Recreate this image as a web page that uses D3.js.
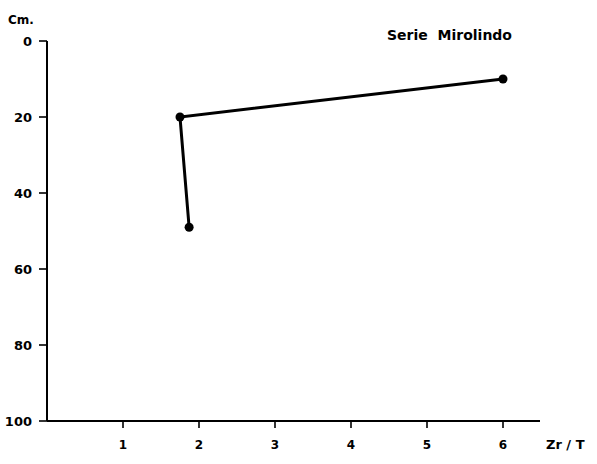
<!DOCTYPE html>
<html>
<head>
<meta charset="utf-8">
<script src="https://cdn.jsdelivr.net/npm/d3@7"></script>
<style>
  body { margin: 0; background: #fff; }
  text { font-family: "DejaVu Sans", sans-serif; font-weight: bold; fill: #000; white-space: pre; }
</style>
</head>
<body>
<svg id="chart" width="597" height="464"></svg>
<script>
// Depth profile, Serie Mirolindo
const ratio = [6.0, 1.75, 1.87];   // Zr / T
const depth = [10, 20, 49];        // cm
const xTicks = [1, 2, 3, 4, 5, 6];
const yTicks = [0, 20, 40, 60, 80, 100];

const svg = d3.select("#chart");
const x = d3.scaleLinear().domain([0, 6]).range([47, 503]);
const y = d3.scaleLinear().domain([0, 100]).range([41, 421]);

// axes
const xAxis = svg.append("g").attr("transform", `translate(0,${y(100)})`);
xAxis.append("line").attr("x1", x(0)).attr("x2", 540).attr("stroke", "#000").attr("stroke-width", 2);
xAxis.selectAll(".t").data(xTicks).enter().append("line")
  .attr("x1", d => x(d)).attr("x2", d => x(d)).attr("y1", 0).attr("y2", 7)
  .attr("stroke", "#000").attr("stroke-width", 1.6);
xAxis.selectAll(".l").data(xTicks).enter().append("text")
  .attr("x", d => x(d)).attr("y", 28).attr("text-anchor", "middle")
  .attr("font-size", 12).text(d => d);

const yAxis = svg.append("g").attr("transform", `translate(${x(0)},0)`);
yAxis.append("line").attr("y1", y(0)).attr("y2", y(100)).attr("stroke", "#000").attr("stroke-width", 2);
yAxis.selectAll(".t").data(yTicks).enter().append("line")
  .attr("x1", -8).attr("x2", 0).attr("y1", d => y(d)).attr("y2", d => y(d))
  .attr("stroke", "#000").attr("stroke-width", 1.6);
yAxis.selectAll(".l").data(yTicks).enter().append("text")
  .attr("x", -15).attr("y", d => y(d) + 5).attr("text-anchor", "end")
  .attr("font-size", 13).text(d => d);

svg.append("text").attr("x", 8).attr("y", 24).attr("font-size", 12).text("Cm.");
svg.append("text").attr("x", 546).attr("y", 449).attr("font-size", 13).text("Zr / T");
svg.append("text").attr("x", 387).attr("y", 40).attr("font-size", 14)
  .text("Serie  Mirolindo");

// profile line and points
const pts = ratio.map((r, i) => [r, depth[i]]);
svg.append("path").datum(pts)
  .attr("d", d3.line().x(d => x(d[0])).y(d => y(d[1])))
  .attr("fill", "none").attr("stroke", "#000").attr("stroke-width", 3);
svg.selectAll(".pt").data(pts).enter().append("circle")
  .attr("cx", d => x(d[0])).attr("cy", d => y(d[1])).attr("r", 4.5).attr("fill", "#000");
</script>
</body>
</html>
